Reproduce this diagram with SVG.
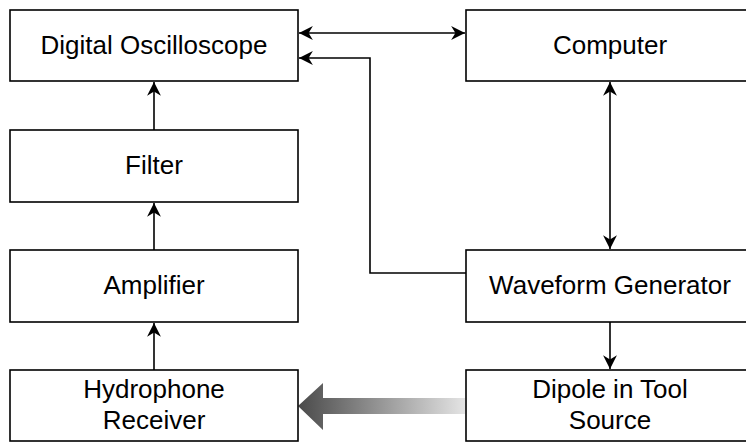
<svg xmlns="http://www.w3.org/2000/svg" width="746" height="442" viewBox="0 0 746 442">
  <style>
    .box { fill: #ffffff; stroke: #000000; stroke-width: 1.6; }
    .lbl { font-family: "Liberation Sans", Arial, sans-serif; font-size: 26px; fill: #000000; text-anchor: middle; }
    .conn { fill: none; stroke: #000000; stroke-width: 1.6; }
  </style>
  <defs>
    <marker id="ah" markerUnits="userSpaceOnUse" markerWidth="16" markerHeight="16" viewBox="-14 -7 15 14" refX="0" refY="0" orient="auto-start-reverse">
      <path d="M0,0 L-13,-6.5 L-9,0 L-13,6.5 Z" fill="#000000"/>
    </marker>
    <linearGradient id="grad" x1="0" y1="0" x2="1" y2="0">
      <stop offset="0" stop-color="#4a4a4a"/>
      <stop offset="1" stop-color="#e4e4e4"/>
    </linearGradient>
  </defs>

  <g id="connectors">
    <line class="conn" x1="299" y1="33" x2="465" y2="33" marker-start="url(#ah)" marker-end="url(#ah)"/>
    <polyline class="conn" points="466,273 370,273 370,58 299,58" marker-end="url(#ah)"/>
    <line class="conn" x1="154" y1="130" x2="154" y2="82" marker-end="url(#ah)"/>
    <line class="conn" x1="154" y1="250" x2="154" y2="203" marker-end="url(#ah)"/>
    <line class="conn" x1="154" y1="370" x2="154" y2="323" marker-end="url(#ah)"/>
    <line class="conn" x1="610" y1="82" x2="610" y2="249" marker-start="url(#ah)" marker-end="url(#ah)"/>
    <line class="conn" x1="610" y1="322" x2="610" y2="369" marker-end="url(#ah)"/>
    <path d="M298,406 L323,383 L323,398 L465,398 L465,414 L323,414 L323,430 Z" fill="url(#grad)" stroke="none"/>
  </g>

  <g id="digital-oscilloscope">
    <rect class="box" x="10" y="10" width="288" height="71"/>
    <text class="lbl" x="154" y="54">Digital Oscilloscope</text>
  </g>
  <g id="computer">
    <rect class="box" x="466" y="10" width="288" height="71"/>
    <text class="lbl" x="610" y="54">Computer</text>
  </g>
  <g id="filter">
    <rect class="box" x="10" y="130" width="288" height="72"/>
    <text class="lbl" x="154" y="174">Filter</text>
  </g>
  <g id="amplifier">
    <rect class="box" x="10" y="250" width="288" height="72"/>
    <text class="lbl" x="154" y="294">Amplifier</text>
  </g>
  <g id="waveform-generator">
    <rect class="box" x="466" y="250" width="288" height="72"/>
    <text class="lbl" x="610" y="294">Waveform Generator</text>
  </g>
  <g id="hydrophone-receiver">
    <rect class="box" x="10" y="370" width="288" height="71"/>
    <text class="lbl" x="154" y="398">Hydrophone</text>
    <text class="lbl" x="154" y="429">Receiver</text>
  </g>
  <g id="dipole-source">
    <rect class="box" x="466" y="370" width="288" height="71"/>
    <text class="lbl" x="610" y="398">Dipole in Tool</text>
    <text class="lbl" x="610" y="429">Source</text>
  </g>
</svg>
